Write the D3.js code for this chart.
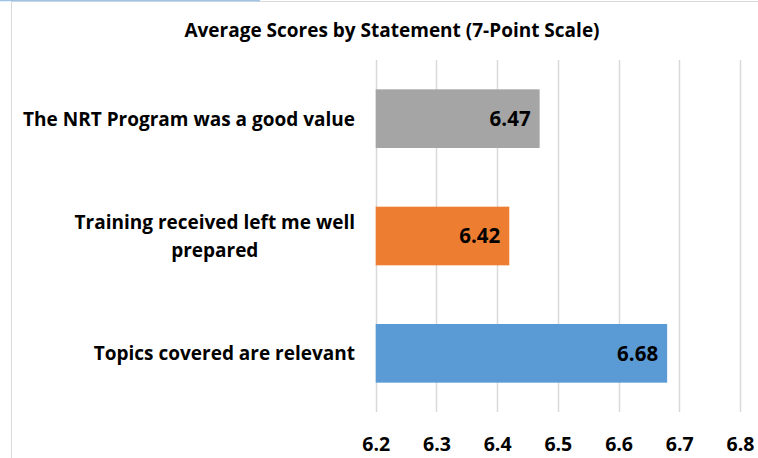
<!DOCTYPE html>
<html>
<head>
<meta charset="utf-8">
<script src="https://cdn.jsdelivr.net/npm/d3@7"></script>
<style>
  html, body { margin: 0; padding: 0; background: #fff; }
  svg { display: block; }
  text { font-family: "Open Sans", Lato, sans-serif; font-weight: bold; fill: #000; }
</style>
</head>
<body>
<svg id="chart" width="758" height="458"></svg>
<script>
const title = "Average Scores by Statement (7-Point Scale)";
const categories = ["The NRT Program was a good value", "Training received left me well\nprepared", "Topics covered are relevant"];
const values = [6.47, 6.42, 6.68];
const colors = ["#A5A5A5", "#ED7D31", "#5B9BD5"];
const tickValues = [6.2, 6.3, 6.4, 6.5, 6.6, 6.7, 6.8];

const svg = d3.select("#chart");
const W = 758, H = 458;
const plot = { left: 375.7, right: 740, top: 60, bottom: 412 };

// outer frame
svg.append("line").attr("x1", 11.5).attr("x2", 11.5).attr("y1", 1).attr("y2", H)
  .attr("stroke", "#D9D9D9").attr("stroke-width", 1);
svg.append("line").attr("x1", 11).attr("x2", W).attr("y1", 1.5).attr("y2", 1.5)
  .attr("stroke", "#D9D9D9").attr("stroke-width", 1);
svg.append("line").attr("x1", 0).attr("x2", 260).attr("y1", 0.5).attr("y2", 0.5)
  .attr("stroke", "#9DC3E6").attr("stroke-width", 1.5);

const x = d3.scaleLinear().domain([6.2, 6.8]).range([plot.left, plot.right]);
const y = d3.scaleBand().domain(categories).range([plot.top, plot.bottom])
  .paddingInner(0.5).paddingOuter(0.25);

// gridlines
svg.append("g").selectAll("line").data(tickValues).join("line")
  .attr("x1", d => Math.round(x(d)) + 0.5).attr("x2", d => Math.round(x(d)) + 0.5)
  .attr("y1", plot.top).attr("y2", plot.bottom)
  .attr("stroke", "#D9D9D9").attr("stroke-width", 1.5);

// bars
svg.append("g").selectAll("rect").data(categories).join("rect")
  .attr("x", x(6.2))
  .attr("y", d => y(d))
  .attr("width", (d, i) => x(values[i]) - x(6.2))
  .attr("height", y.bandwidth())
  .attr("fill", (d, i) => colors[i]);

// value labels
svg.append("g").selectAll("text").data(categories).join("text")
  .attr("x", (d, i) => x(values[i]) - 9)
  .attr("y", d => y(d) + y.bandwidth() / 2)
  .attr("dy", "0.36em")
  .attr("text-anchor", "end")
  .style("font-size", "20.5px")
  .text((d, i) => values[i].toFixed(2));

// x axis tick labels
const xAxis = d3.axisBottom(x).tickValues(tickValues).tickSize(0).tickPadding(0)
  .tickFormat(d3.format(".1f"));
const gx = svg.append("g").attr("transform", `translate(0, ${plot.bottom + 39})`).call(xAxis);
gx.select(".domain").remove();
gx.selectAll("text").attr("dy", 0).style("font-size", "19.5px")
  .style("font-family", "'Open Sans', sans-serif").style("font-weight", "bold").attr("fill", "#000");

// category labels
const catG = svg.append("g");
categories.forEach((c, i) => {
  const lines = c.split("\n");
  const cy = y(c) + y.bandwidth() / 2;
  const lh = 28;
  const t = catG.append("text").style("font-size", "19px").attr("text-anchor", "middle");
  lines.forEach((ln, k) => {
    t.append("tspan").attr("y", cy + (k - (lines.length - 1) / 2) * lh).attr("dy", "0.36em").text(ln);
  });
  const tspans = t.selectAll("tspan").nodes();
  const widths = tspans.map(n => n.getComputedTextLength());
  const maxW = d3.max(widths);
  const cx = 355 - maxW / 2;
  t.selectAll("tspan").attr("x", cx);
});

// title
svg.append("text").attr("x", 392).attr("y", 30).attr("dy", "0.36em")
  .attr("text-anchor", "middle").style("font-size", "19px").text(title);
</script>
</body>
</html>
